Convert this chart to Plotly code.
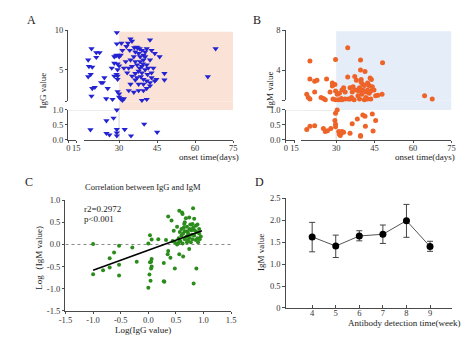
import plotly.graph_objects as go
import numpy as np

W, H = 474, 346
def px_x(p): return p / W
def px_y(p): return 1 - p / H

FONT = "Liberation Serif"

# ---------------- Data ----------------
# Panel A: onset time (days) vs IgG value
A_days = [19.1, 17.8, 18.1, 19.4, 18.8, 17.8, 19.4, 19.1, 21.0, 22.3, 21.0, 20.4, 22.9, 23.6, 24.2,
          24.9, 25.5, 28.1, 28.7, 28.1, 27.1, 27.4, 28.1, 29.0, 29.1, 29.1, 29.1, 30.0, 29.4, 30.0,
          29.4, 29.4, 29.4, 29.4, 30.0, 30.0, 30.6, 31.9, 30.9, 31.3, 30.6, 32.9, 33.5, 34.5, 35.1,
          34.2, 36.0, 36.8, 37.3, 38.1, 36.4, 35.8, 37.7, 39.0, 39.6, 40.3, 40.9, 42.2, 42.8, 44.1,
          46.0, 39.6, 38.3, 37.1, 35.1, 33.8, 31.9, 33.2, 35.1, 36.4, 37.7, 39.0, 40.9, 42.2, 43.5,
          42.8, 44.7, 47.9, 47.9, 44.1, 42.2, 40.9, 39.6, 37.7, 36.4, 34.5, 33.8, 35.8, 37.7, 39.6,
          40.9, 42.2, 39.0, 40.9, 31.3, 65.0, 68.1, 38.3, 39.4, 40.3, 38.6, 41.2, 42.8, 37.1, 32.6,
          34.5, 36.4, 39.0, 39.6, 41.5, 40.3, 38.1,
          18.7, 25.0, 27.8, 29.1, 29.1, 29.1, 29.1, 25.0, 26.2, 32.2, 34.7, 39.9, 45.0]
A_igg = [7.66, 6.23, 5.41, 5.33, 4.39, 4.10, 2.62, 1.64, 7.17, 7.17, 6.56, 2.75, 3.36, 3.36, 3.98,
         1.31, 2.62, 6.64, 6.76, 5.82, 5.20, 1.23, 4.18, 4.39, 9.71, 8.28, 6.84, 6.64, 5.74, 5.49,
         5.00, 4.18, 3.77, 2.21, 1.93, 1.52, 1.31, 1.31, 8.36, 7.46, 6.84, 7.95, 8.36, 8.89, 8.61,
         7.46, 7.79, 7.87, 7.79, 7.66, 7.25, 6.64, 7.05, 7.46, 6.84, 6.64, 7.66, 8.77, 7.46, 7.05,
         6.64, 6.23, 6.02, 5.61, 5.41, 5.20, 5.20, 4.59, 4.18, 4.51, 4.80, 5.41, 5.61, 6.23, 5.20,
         4.59, 3.77, 4.51, 3.69, 3.57, 3.36, 3.57, 3.16, 3.16, 3.69, 3.16, 2.34, 2.13, 2.34, 2.34,
         2.62, 2.95, 1.11, 1.23, 1.11, 4.10, 7.66, 6.64, 5.74, 5.00, 4.10, 4.39, 3.98, 3.98, 6.02,
         6.23, 6.02, 4.59, 3.77, 5.20, 7.25, 5.20,
         0.34, 0.64, 0.73, 1.00, 0.35, 0.24, 0.14, 0.22, 0.17, 0.35, 0.14, 0.53, 0.26]

# Panel B: onset time (days) vs IgM value
B_days = [19.75, 19.75, 18.5, 19.1, 19.75, 21.6, 21.6, 22.5, 24.1, 25.0, 25.75, 26.25, 27.6, 28.5,
          29.5, 28.5, 29.75, 29.75, 30.4, 28.75, 29.75, 31.0, 32.0, 31.25, 32.25, 32.9, 33.5, 34.5,
          34.5, 35.4, 36.25, 35.4, 37.0, 37.25, 37.9, 38.25, 39.1, 39.5, 39.5, 39.75, 40.4, 41.25,
          39.1, 41.0, 42.25, 43.5, 42.9, 41.6, 40.4, 40.0, 38.5, 43.25, 43.75, 42.9, 44.1, 44.75,
          43.5, 45.4, 46.25, 47.9, 48.1, 64.5, 67.5, 39.75, 41.0, 42.25, 37.25, 36.0, 34.75, 33.5,
          32.25, 41.6, 38.75, 42.25, 36.6,
          18.5, 19.75, 21.6, 25.0, 25.75, 26.6, 27.9, 29.5, 29.75, 30.4, 29.75, 29.75, 31.0, 31.25,
          32.0, 32.25, 32.9, 31.6, 35.4, 36.25, 38.25, 39.5, 39.5, 40.4, 41.25, 41.4, 44.1, 44.4, 45.4]
B_igm = [4.91, 3.12, 1.59, 1.27, 1.11, 1.82, 2.89, 2.99, 1.27, 1.17, 1.04, 3.12, 1.82, 2.73,
         2.57, 2.41, 5.07, 1.92, 1.59, 1.11, 1.04, 1.04, 1.17, 1.69, 2.02, 2.24, 1.82, 6.24,
         3.32, 2.24, 1.82, 1.11, 1.04, 3.38, 2.99, 2.02, 2.24, 4.03, 5.01, 3.06, 2.57, 3.87,
         1.11, 1.04, 1.11, 1.11, 1.69, 1.82, 2.02, 1.59, 1.43, 3.22, 3.06, 2.47, 2.34, 2.02,
         1.92, 1.43, 1.50, 1.59, 4.75, 1.43, 1.11, 2.80, 2.47, 2.02, 2.02, 1.27, 1.11, 1.11,
         1.04, 1.27, 1.92, 2.73, 2.34,
         0.35, 0.46, 0.47, 0.38, 0.28, 0.31, 0.38, 0.65, 0.89, 1.00, 0.52, 0.44, 0.28, 0.19,
         0.22, 0.28, 0.26, 0.15, 0.22, 0.54, 0.70, 0.15, 0.12, 0.83, 0.79, 0.46, 0.86, 0.30, 0.65]

# Panel C: log IgG vs log IgM
C_log_igg = [-1.0, -1.0, -0.82, -0.7, -0.7, -0.62, -0.53, -0.53, -0.53, -0.29, -0.21, 0.0, 0.03, 0.06,
             0.03, 0.06, 0.02, 0.04, 0.0, 0.06, 0.18, 0.29, 0.28, 0.32, 0.36, 0.42, 0.36, 0.35, 0.40,
             0.46, 0.48, 0.52, 0.55, 0.56, 0.61, 0.62, 0.56, 0.57, 0.63, 0.65, 0.68, 0.70, 0.74, 0.72,
             0.75, 0.78, 0.80, 0.83, 0.81, 0.74, 0.83, 0.86, 0.89, 0.89, 0.92, 0.95, 0.92, 0.87, 0.82,
             0.66, 0.69, 0.72, 0.60, 0.52, 0.63, 0.58, 0.62, 0.66, 0.70, 0.74, 0.77, 0.80, 0.84, 0.87,
             0.90, 0.93, 0.60, 0.64, 0.76, 0.81, 0.86, 0.54, 0.48, 0.44, 0.79, 0.71, 0.66, 0.28, 0.05,
             0.05, 0.56]
C_log_igm = [0.01, -0.67, -0.58, -0.31, -0.52, -0.18, -0.03, -0.46, -0.70, -0.07, -0.39, 0.02, 0.21, 0.11,
             -0.40, -0.50, -0.68, -0.82, -0.98, -0.33, 0.12, -0.84, -0.42, 0.10, 0.63, 0.54, -0.15, -0.22, -0.30,
             0.31, -0.54, 0.0, 0.14, 0.76, 0.72, 0.69, -0.22, 0.28, -0.27, 0.46, 0.59, 0.40, 0.61, 0.25,
             0.35, 0.32, 0.46, 0.58, 0.82, -0.10, 0.20, 0.10, 0.45, 0.14, 0.25, 0.18, 0.35, -0.54, -0.88,
             0.50, 0.18, 0.10, 0.20, 0.40, 0.25, 0.08, 0.02, 0.12, 0.05, 0.15, 0.05, 0.12, 0.32, 0.28,
             0.05, 0.12, 0.35, 0.38, 0.45, 0.38, 0.42, 0.02, 0.05, 0.08, 0.22, 0.30, 0.30, -0.83, -0.39,
             -0.54, 0.06]
C_fit_x = [-1.0, 0.97]
C_fit_y = [-0.58, 0.31]

# Panel D: IgM by week
D_weeks = [4, 5, 6, 7, 8, 9]
D_mean = [1.62, 1.41, 1.64, 1.68, 1.99, 1.40]
D_err_plus = [0.33, 0.25, 0.12, 0.21, 0.37, 0.12]
D_err_minus = [0.34, 0.26, 0.11, 0.21, 0.38, 0.11]

# split broken axes
A_days_a, A_igg_a = np.array(A_days), np.array(A_igg)
B_days_a, B_igm_a = np.array(B_days), np.array(B_igm)
A_hi, B_hi = A_igg_a > 1.0, B_igm_a > 1.0

# ---------------- Layout geometry ----------------
A_x1_dom = [px_x(63), px_x(71)]
A_x2_dom = [px_x(79), px_x(232)]
A_ylo_dom = [px_y(139), px_y(108)]
A_yhi_dom = [px_y(99), px_y(26)]
B_x1_dom = [px_x(286), px_x(295)]
B_x2_dom = [px_x(302), px_x(456)]
B_ylo_dom = [px_y(139), px_y(108)]
B_yhi_dom = [px_y(98), px_y(26)]
C_x_dom = [px_x(60), px_x(230)]
C_y_dom = [px_y(315), px_y(201)]
D_x_dom = [px_x(286), px_x(457)]
D_y_dom = [px_y(312), px_y(199)]

AXC = '#4a4a4a'
def ax(**kw):
    d = dict(showline=True, linecolor=AXC, linewidth=1, ticks='outside', ticklen=2.5,
             tickcolor=AXC, tickwidth=1, showgrid=False, zeroline=False, fixedrange=True,
             tickangle=0, tickfont=dict(family=FONT, size=8.5, color='#333'))
    d.update(kw)
    return d

fig = go.Figure()

# invisible anchors for the short axis segments
for xa, ya in [('x', 'y'), ('x', 'y2'), ('x3', 'y3'), ('x3', 'y4')]:
    fig.add_trace(go.Scatter(x=[None], y=[None], xaxis=xa, yaxis=ya, mode='markers',
                             hoverinfo='skip', showlegend=False))

# A
fig.add_trace(go.Scatter(x=A_days_a[A_hi], y=A_igg_a[A_hi], xaxis='x2', yaxis='y2', mode='markers',
                         marker=dict(symbol='triangle-down', size=5.5, color='#2323d2'), cliponaxis=False))
fig.add_trace(go.Scatter(x=A_days_a[~A_hi], y=A_igg_a[~A_hi], xaxis='x2', yaxis='y', mode='markers',
                         marker=dict(symbol='triangle-down', size=5.5, color='#2323d2'), cliponaxis=False))
# B
fig.add_trace(go.Scatter(x=B_days_a[B_hi], y=B_igm_a[B_hi], xaxis='x4', yaxis='y4', mode='markers',
                         marker=dict(symbol='circle', size=5, color='#ee6328'), cliponaxis=False))
fig.add_trace(go.Scatter(x=B_days_a[~B_hi], y=B_igm_a[~B_hi], xaxis='x4', yaxis='y3', mode='markers',
                         marker=dict(symbol='circle', size=5, color='#ee6328'), cliponaxis=False))
# C
fig.add_trace(go.Scatter(x=C_log_igg, y=C_log_igm, xaxis='x5', yaxis='y5', mode='markers',
                         marker=dict(size=4, color='#2b8c1c'), cliponaxis=False))
fig.add_trace(go.Scatter(x=C_fit_x, y=C_fit_y, xaxis='x5', yaxis='y5', mode='lines',
                         line=dict(color='black', width=1.6)))
# D
fig.add_trace(go.Scatter(x=D_weeks, y=D_mean, xaxis='x6', yaxis='y6', mode='lines+markers',
                         line=dict(color='#555', width=1),
                         marker=dict(size=7, color='black'),
                         error_y=dict(type='data', array=D_err_plus, arrayminus=D_err_minus,
                                      color='#444', thickness=1, width=3),
                         cliponaxis=False))

shapes = []
# A shaded region and reference lines
shapes.append(dict(type='rect', xref='x2', yref='y2', x0=30, x1=75, y0=1, y1=9.8,
                   fillcolor='#fbe2d6', line=dict(width=0), layer='below'))
shapes.append(dict(type='rect', xref='x2', yref='paper', x0=30, x1=75, y0=A_ylo_dom[1], y1=A_yhi_dom[0],
                   fillcolor='#fbe2d6', line=dict(width=0), layer='below'))
shapes.append(dict(type='line', xref='x2', yref='y', x0=16.15, x1=30, y0=1.0, y1=1.0,
                   line=dict(color='#dcdcdc', width=1.2), layer='below'))
shapes.append(dict(type='line', xref='paper', yref='y', x0=A_x1_dom[0], x1=A_x2_dom[0], y0=1.0, y1=1.0,
                   line=dict(color='#dcdcdc', width=1.2), layer='below'))
shapes.append(dict(type='line', xref='x2', yref='y', x0=30, x1=30, y0=0, y1=1.0,
                   line=dict(color='#dcdcdc', width=1.2), layer='below'))
# B
shapes.append(dict(type='rect', xref='x4', yref='y4', x0=30, x1=75, y0=1, y1=7.9,
                   fillcolor='#e5edf8', line=dict(width=0), layer='below'))
shapes.append(dict(type='rect', xref='x4', yref='paper', x0=30, x1=75, y0=B_ylo_dom[1], y1=B_yhi_dom[0],
                   fillcolor='#e5edf8', line=dict(width=0), layer='below'))
shapes.append(dict(type='line', xref='x4', yref='y3', x0=16.4, x1=30, y0=1.0, y1=1.0,
                   line=dict(color='#dcdcdc', width=1.2), layer='below'))
shapes.append(dict(type='line', xref='paper', yref='y3', x0=B_x1_dom[0], x1=B_x2_dom[0], y0=1.0, y1=1.0,
                   line=dict(color='#dcdcdc', width=1.2), layer='below'))
shapes.append(dict(type='line', xref='x4', yref='y3', x0=30, x1=30, y0=0, y1=1.0,
                   line=dict(color='#dcdcdc', width=1.2), layer='below'))
# C zero line
shapes.append(dict(type='line', xref='x5', yref='y5', x0=-1.5, x1=1.5, y0=0, y1=0,
                   line=dict(color='#888', width=1, dash='dot'), layer='below'))

def ann(text, x, y, size=9, angle=0, xanchor='center'):
    return dict(text=text, x=px_x(x), y=px_y(y), xref='paper', yref='paper', showarrow=False,
                textangle=angle, xanchor=xanchor, yanchor='middle',
                font=dict(family=FONT, size=size, color='#222'))

annotations = [
    ann('A', 25, 15, 12), ann('B', 257, 15, 12), ann('C', 23, 182, 12), ann('D', 259, 182, 12),
    ann('onset time(days)', 207, 157), ann('onset time(days)', 429, 157),
    ann('IgG value', 37, 88, angle=-90), ann('IgM value', 270, 88, angle=-90),
    ann('Log（IgM value)', 33, 260, angle=-90), ann('IgM value', 260, 255, angle=-90),
    ann('Log(IgG value)', 140, 335), ann('Antibody detection time(week)', 407, 327.5),
    ann('Correlation between IgG and IgM', 140, 187, 8.5),
    dict(text='r2=0.2972', x=-1.2, y=0.81, xref='x5', yref='y5', showarrow=False, xanchor='left',
         font=dict(family=FONT, size=9, color='#222')),
    dict(text='p<0.001', x=-1.2, y=0.58, xref='x5', yref='y5', showarrow=False, xanchor='left',
         font=dict(family=FONT, size=9, color='#222')),
]

fig.update_layout(
    width=W, height=H, margin=dict(l=0, r=0, t=0, b=0),
    paper_bgcolor='white', plot_bgcolor='rgba(0,0,0,0)', showlegend=False,
    font=dict(family=FONT, size=9, color='#222'),
    xaxis=ax(domain=A_x1_dom, range=[0, 15], anchor='y', tickvals=[0, 15], ticklabelstandoff=-3),
    xaxis2=ax(domain=A_x2_dom, range=[16.15, 75], anchor='y', tickvals=[30, 45, 60, 75], ticklabelstandoff=-3),
    yaxis=ax(domain=A_ylo_dom, range=[0, 1.0], anchor='x', tickvals=[0, 0.5, 1.0],
             ticktext=['0.0', '0.5', '1.0']),
    yaxis2=ax(domain=A_yhi_dom, range=[1, 10], anchor='x', tickvals=[1, 5, 10], ticktext=['', '5', '10']),
    xaxis3=ax(domain=B_x1_dom, range=[0, 15], anchor='y3', tickvals=[0, 15], ticklabelstandoff=-3),
    xaxis4=ax(domain=B_x2_dom, range=[16.4, 75], anchor='y3', tickvals=[30, 45, 60, 75], ticklabelstandoff=-3),
    yaxis3=ax(domain=B_ylo_dom, range=[0, 1.0], anchor='x3', tickvals=[0, 0.5, 1.0],
              ticktext=['0.0', '0.5', '1.0']),
    yaxis4=ax(domain=B_yhi_dom, range=[1, 8], anchor='x3', tickvals=[1, 4, 8], ticktext=['', '4', '8']),
    xaxis5=ax(domain=C_x_dom, range=[-1.5, 1.5], anchor='y5', tickvals=[-1.5, -1.0, -0.5, 0, 0.5, 1.0, 1.5],
              ticktext=['-1.5', '-1.0', '-0.5', '0.0', '0.5', '1.0', '1.5'], ticklabelstandoff=-2),
    yaxis5=ax(domain=C_y_dom, range=[-1.5, 1.0], anchor='x5', tickvals=[-1.5, -1.0, -0.5, 0, 0.5, 1.0],
              ticktext=['-1.5', '-1.0', '-0.5', '0.0', '0.5', '1.0']),
    xaxis6=ax(domain=D_x_dom, range=[2.88, 9.95], anchor='y6', tickvals=D_weeks, ticks='inside',
              ticklabelstandoff=-3),
    yaxis6=ax(domain=D_y_dom, range=[0, 2.5], anchor='x6', tickvals=[0, 0.5, 1.0, 1.5, 2.0, 2.5],
              ticktext=['0', '0.5', '1.0', '1.5', '2.0', '2.5']),
    shapes=shapes, annotations=annotations,
)

fig.write_html("out.html")
